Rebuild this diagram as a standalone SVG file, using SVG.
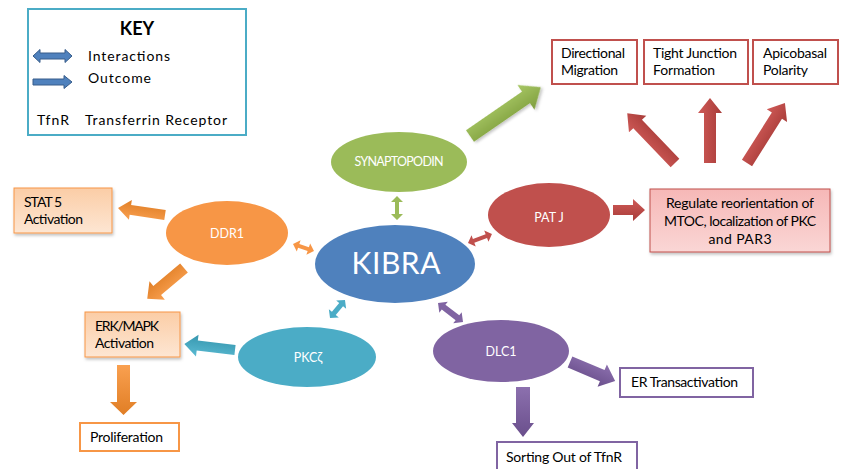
<svg xmlns="http://www.w3.org/2000/svg" width="843" height="469" viewBox="0 0 843 469">
<defs>
<linearGradient id="gOr" x1="0" y1="0" x2="0" y2="1"><stop offset="0" stop-color="#FBCDA6"/><stop offset="1" stop-color="#FDE6D3"/></linearGradient>
<linearGradient id="gPk" x1="0" y1="0" x2="0" y2="1"><stop offset="0" stop-color="#F6B8B7"/><stop offset="1" stop-color="#FAD6D5"/></linearGradient>
<linearGradient id="aGr" x1="0" y1="0" x2="0" y2="1"><stop offset="0" stop-color="#A8C865"/><stop offset="1" stop-color="#7F9E3E"/></linearGradient>
<linearGradient id="aRd" x1="0" y1="0" x2="0" y2="1"><stop offset="0" stop-color="#CF5A57"/><stop offset="1" stop-color="#A83C39"/></linearGradient>
<linearGradient id="aOr" x1="0" y1="0" x2="0" y2="1"><stop offset="0" stop-color="#F9A050"/><stop offset="1" stop-color="#E07E25"/></linearGradient>
<linearGradient id="aTl" x1="0" y1="0" x2="0" y2="1"><stop offset="0" stop-color="#5BBBD3"/><stop offset="1" stop-color="#3696AE"/></linearGradient>
<linearGradient id="aPu" x1="0" y1="0" x2="0" y2="1"><stop offset="0" stop-color="#8C70AE"/><stop offset="1" stop-color="#6A4F8C"/></linearGradient>
<filter id="sh" x="-10%" y="-10%" width="130%" height="140%"><feDropShadow dx="1" dy="2" stdDeviation="1.5" flood-color="#000" flood-opacity="0.25"/></filter>
</defs>
<style>
text{font-family:Lato,"Liberation Sans",sans-serif;fill:#000;}
.lbl{font-size:14px;}
.wt{fill:#fff;font-size:12.5px;text-anchor:middle;}
.red{fill:#fff;stroke:#C0504D;stroke-width:2;}
.org{fill:#fff;stroke:#F79646;stroke-width:2;}
.pur{fill:#fff;stroke:#8064A2;stroke-width:2;}
</style>
<rect width="843" height="469" fill="#fff"/>

<g id="key">
<rect x="28" y="9" width="218" height="126" fill="#fff" stroke="#4BACC6" stroke-width="2"/>
<text x="137" y="35" style="font-weight:bold;font-size:18px" text-anchor="middle">KEY</text>
<polygon points="33,56 40,49.5 40,53 65,53 65,49.5 72,56 65,62.5 65,59 40,59 40,62.5" fill="#4F81BD" stroke="#385D8A" stroke-width="1"/>
<polygon points="33,79 64,79 64,75.5 72,82 64,88.5 64,85 33,85" fill="#4F81BD" stroke="#385D8A" stroke-width="1"/>
<text x="88" y="61" class="lbl" textLength="82">Interactions</text>
<text x="88" y="83" class="lbl" textLength="63">Outcome</text>
<text x="37" y="125" class="lbl" textLength="32">TfnR</text>
<text x="85" y="125" class="lbl" textLength="142">Transferrin Receptor</text>
</g>

<g id="connectors">
<polygon points="0,-7 68,-7 68,-15 86,0 68,15 68,7 0,7" fill="url(#aGr)" transform="translate(470,136) rotate(-34.6)" filter="url(#sh)"/>
<polygon points="0,-6 54,-6 54,-12 69,0 54,12 54,6 0,6" fill="url(#aRd)" transform="translate(675,163) rotate(-133.8)"/>
<polygon points="0,-6 50,-6 50,-12 65,0 50,12 50,6 0,6" fill="url(#aRd)" transform="translate(710,163) rotate(-90)"/>
<polygon points="0,-6 56,-6 56,-12 71,0 56,12 56,6 0,6" fill="url(#aRd)" transform="translate(747,163) rotate(-57.7)"/>
<polygon points="613,205 633,205 633,199 645,210 633,221 633,215 613,215" fill="url(#aRd)"/>
<polygon points="0,-5 35,-5 35,-10 47.5,0 35,10 35,5 0,5" fill="url(#aOr)" transform="translate(165,215) rotate(-171.5)"/>
<polygon points="0,-6 35,-6 35,-12 48,0 35,12 35,6 0,6" fill="url(#aOr)" transform="translate(184,268) rotate(140)"/>
<polygon points="117,365 130,365 130,402 137,402 123.5,415 110,402 117,402" fill="url(#aOr)"/>
<polygon points="0,-5 38,-5 38,-11 51,0 38,11 38,5 0,5" fill="url(#aTl)" transform="translate(235,350) rotate(-173.3)"/>
<polygon points="0,-6 35,-6 35,-12 49,0 35,12 35,6 0,6" fill="url(#aPu)" transform="translate(570,362) rotate(22.9)"/>
<polygon points="516,387 530,387 530,423 534,423 523,437 512,423 516,423" fill="url(#aPu)"/>
<polygon points="0,0 6,-6 6,-2 18,-2 18,-6 24,0 18,6 18,2 6,2 6,6" fill="#9BBB59" transform="translate(397,196) rotate(90)"/>
<polygon points="0,0 6,-6 6,-2 19.6,-2 19.6,-6 25.6,0 19.6,6 19.6,2 6,2 6,6" fill="#C0504D" transform="translate(468,243) rotate(-20.6)"/>
<polygon points="0,0 6,-6 6,-2 16.1,-2 16.1,-6 22.1,0 16.1,6 16.1,2 6,2 6,6" fill="#F79646" transform="translate(293,244) rotate(18.4)"/>
<polygon points="0,0 6,-6.5 6,-2.5 17.4,-2.5 17.4,-6.5 23.4,0 17.4,6.5 17.4,2.5 6,2.5 6,6.5" fill="#4BACC6" transform="translate(330,318) rotate(-50.2)"/>
<polygon points="0,0 7,-7 7,-3 24.4,-3 24.4,-7 31.4,0 24.4,7 24.4,3 7,3 7,7" fill="#8064A2" transform="translate(438,303) rotate(37.2)"/>
</g>

<g id="kibra">
<ellipse cx="395" cy="264" rx="80" ry="39" fill="#4F81BD"/>
<text x="396" y="274" style="font-size:30px;fill:#fff" text-anchor="middle" textLength="89">KIBRA</text>
</g>
<g id="synaptopodin">
<ellipse cx="399" cy="162" rx="68" ry="30" fill="#9BBB59"/>
<text x="399" y="166" class="wt" textLength="89">SYNAPTOPODIN</text>
</g>
<g id="patj">
<ellipse cx="549" cy="215" rx="61" ry="32" fill="#C0504D"/>
<text x="549" y="222" class="wt">PAT J</text>
</g>
<g id="ddr1">
<ellipse cx="227" cy="233" rx="61" ry="32" fill="#F79646"/>
<text x="227" y="238" class="wt">DDR1</text>
</g>
<g id="pkcz">
<ellipse cx="307" cy="357" rx="69" ry="30" fill="#4BACC6"/>
<text x="308" y="362" class="wt">PKCζ</text>
</g>
<g id="dlc1">
<ellipse cx="501" cy="351" rx="68" ry="31" fill="#8064A2"/>
<text x="501" y="356" class="wt">DLC1</text>
</g>

<g id="directional">
<rect x="552" y="40" width="85" height="44" class="red"/>
<text x="561" y="58" class="lbl" textLength="64">Directional</text>
<text x="561" y="75" class="lbl" textLength="57">Migration</text>
</g>
<g id="tight">
<rect x="644" y="40" width="104" height="44" class="red"/>
<text x="653" y="58" class="lbl" textLength="84">Tight Junction</text>
<text x="653" y="75" class="lbl" textLength="62">Formation</text>
</g>
<g id="apicobasal">
<rect x="753" y="40" width="85" height="44" class="red"/>
<text x="763" y="58" class="lbl" textLength="64">Apicobasal</text>
<text x="763" y="75" class="lbl" textLength="45">Polarity</text>
</g>
<g id="regulate">
<rect x="650" y="189" width="180" height="63" fill="url(#gPk)" stroke="#C0504D" stroke-width="1" filter="url(#sh)"/>
<text x="740" y="208" class="lbl" text-anchor="middle" textLength="148">Regulate reorientation of</text>
<text x="740" y="226" class="lbl" text-anchor="middle" textLength="152">MTOC, localization of PKC</text>
<text x="740" y="244" class="lbl" text-anchor="middle" textLength="63">and PAR3</text>
</g>
<g id="stat5">
<rect x="14" y="188" width="98" height="45" fill="url(#gOr)" stroke="#F79646" stroke-width="1" filter="url(#sh)"/>
<text x="24" y="207" class="lbl" textLength="38">STAT 5</text>
<text x="24" y="224" class="lbl" textLength="59">Activation</text>
</g>
<g id="erk">
<rect x="85" y="312" width="95" height="45" fill="url(#gOr)" stroke="#F79646" stroke-width="1" filter="url(#sh)"/>
<text x="95" y="331" class="lbl" textLength="64">ERK/MAPK</text>
<text x="95" y="348" class="lbl" textLength="59">Activation</text>
</g>
<g id="proliferation">
<rect x="80" y="423" width="99" height="28" class="org"/>
<text x="90" y="442" class="lbl" textLength="73">Proliferation</text>
</g>
<g id="er">
<rect x="620" y="368" width="133" height="29" class="pur"/>
<text x="631" y="387" class="lbl" textLength="107">ER Transactivation</text>
</g>
<g id="sorting">
<rect x="497" y="442" width="140" height="32" class="pur"/>
<text x="506" y="462" class="lbl" textLength="116">Sorting Out of TfnR</text>
</g>
</svg>
